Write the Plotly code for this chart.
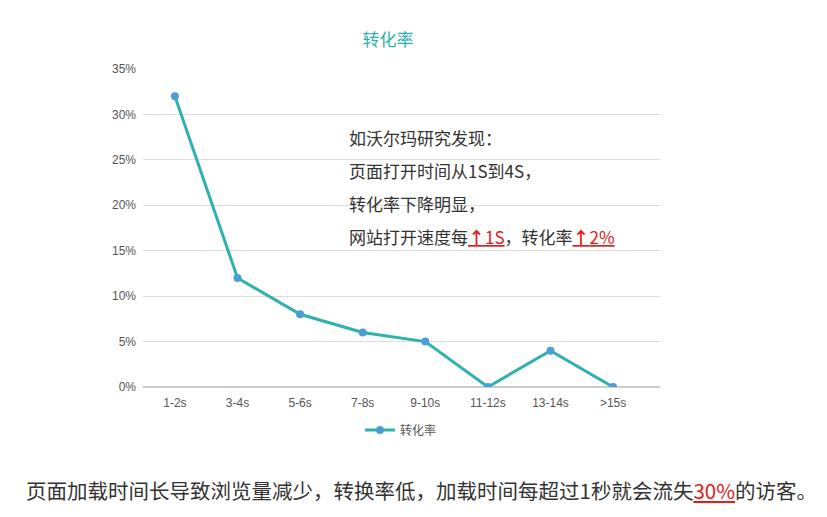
import plotly.graph_objects as go

# 转化率 by page load time
categories = ["1-2s", "3-4s", "5-6s", "7-8s", "9-10s", "11-12s", "13-14s", ">15s"]
rates = [32, 12, 8, 6, 5, 0, 4, 0]
y_ticks = [0, 5, 10, 15, 20, 25, 30, 35]

font_cn = "Noto Sans CJK SC, Microsoft YaHei, sans-serif"
font_lat = "Liberation Sans, Arial, sans-serif"

# page body adds an 8px margin, so work in figure coordinates = ref - 8
W, H = 819, 509
L, R, T, B = 135, 167, 61, 130
PW, PH = W - L - R, H - T - B


def px(x):
    return (x - 8 - L) / PW


def py(y):
    return (H - B - (y - 8)) / PH


fig = go.Figure()
fig.add_trace(go.Scatter(
    x=categories, y=rates, name="转化率", mode="lines+markers",
    line=dict(color="#2fb1ad", width=3),
    marker=dict(color="#4d9fd3", size=8),
))

red_up = "<span style='color:#e0201a'><u><b>↑</b>1S</u></span>"
red_up2 = "<span style='color:#e0201a'><u><b>↑</b>2%</u></span>"
note_lines = ["如沃尔玛研究发现：", "页面打开时间从1S到4S，", "转化率下降明显，",
              "网站打开速度每" + red_up + "，转化率" + red_up2]
for i, line in enumerate(note_lines):
    fig.add_annotation(text=line, xref="paper", yref="paper",
                       x=px(347), y=py(137 + 33 * i),
                       xanchor="left", yanchor="middle", showarrow=False,
                       font=dict(family=font_cn, size=17, color="#333333"))

fig.add_annotation(
    text="页面加载时间长导致浏览量减少，转换率低，加载时间每超过1秒就会流失"
         "<span style='color:#e0201a'><u>30%</u></span>的访客。",
    xref="paper", yref="paper", x=px(24), y=py(490),
    xanchor="left", yanchor="middle", showarrow=False,
    font=dict(family=font_cn, size=20.5, color="#333333"))

fig.update_layout(
    width=W, height=H,
    margin=dict(l=L, r=R, t=T, b=B),
    paper_bgcolor="white", plot_bgcolor="white",
    font=dict(family=font_cn, color="#666666", size=12),
    title=dict(text="转化率", x=(388 - 8) / W, xanchor="center",
               y=1 - (40 - 8) / H, yanchor="middle",
               font=dict(size=17, color="#2fb1ad")),
    showlegend=True,
    legend=dict(orientation="h", x=px(401), xanchor="center",
                y=py(430), yanchor="middle",
                font=dict(size=12, color="#555555")),
    xaxis=dict(range=[-0.51, 7.75], showgrid=False, zeroline=False,
               showline=False, ticks="", ticklabelstandoff=7,
               tickfont=dict(family=font_lat, size=12, color="#555555")),
    yaxis=dict(range=[0, 35], tickvals=y_ticks,
               ticktext=[f"{v}%" for v in y_ticks],
               showgrid=True, gridcolor="#dddddd", zeroline=True,
               zerolinecolor="#cccccc", showline=False, ticks="",
               ticklabelstandoff=6,
               tickfont=dict(family=font_lat, size=12, color="#555555")),
)

fig.write_html("out.html")
